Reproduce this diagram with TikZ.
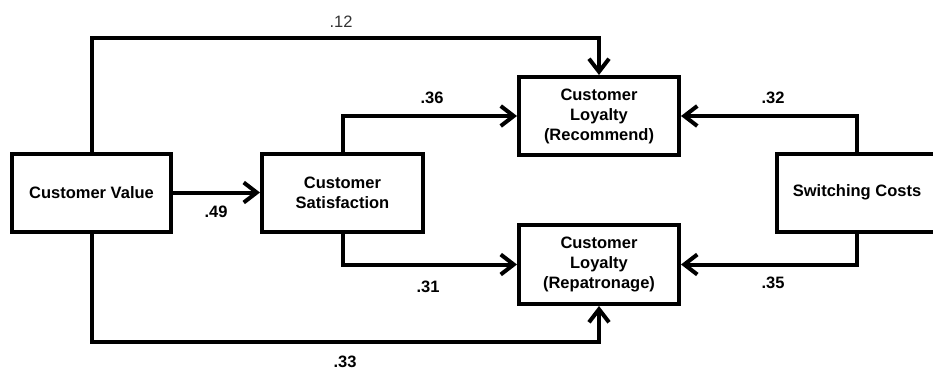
\documentclass[tikz,border=0pt]{standalone}
\usepackage{fontspec}
\setmainfont{Liberation Sans}
\usetikzlibrary{arrows.meta}
\begin{document}
\begin{tikzpicture}[x=1pt,y=-1pt,
  box/.style={draw,line width=4pt,align=center,inner sep=2pt,
    minimum width=160pt,minimum height=78pt,
    font=\fontsize{16.5}{20}\selectfont\bfseries},
  path/.style={line width=4pt,-{Straight Barb[length=13pt,width=20pt]}},
  coef/.style={font=\fontsize{16.5}{20}\selectfont\bfseries},
  coeflight/.style={font=\fontsize{16.5}{20}\selectfont,text=black!80}]
  \useasboundingbox (0,0) rectangle (933,370);
  \clip (0,0) rectangle (933,370);

  % constructs
  \node[box,minimum width=159pt] (cv)  at (91.5,192.5) {Customer Value};
  \node[box,minimum width=161pt] (sat) at (342.5,192.5) {Customer\\Satisfaction};
  \node[box] (rec) at (599,116) {Customer\\Loyalty\\(Recommend)};
  \node[box,minimum height=79pt] (rep) at (599,264.5) {Customer\\Loyalty\\(Repatronage)};
  \node[box] (sw)  at (857,192.5) {Switching Costs};

  % structural paths
  \draw[path] (cv.north) -- ++(0,-114) -| (rec.north);
  \draw[path] (sat.north) |- (rec.west);
  \draw[path] (sw.north) |- (rec.east);
  \draw[path] (cv.east) -- (sat.west);
  \draw[path] (sat.south) |- (rep.west);
  \draw[path] (sw.south) |- (rep.east);
  \draw[path] (cv.south) -- ++(0,108) -| (rep.south);

  % path coefficients
  \node[coeflight] (c12) at (341,22) {.12};
  \node[coef] (c36) at (432,98) {.36};
  \node[coef] (c32) at (773,98) {.32};
  \node[coef] (c49) at (216,212) {.49};
  \node[coef] (c31) at (428,287) {.31};
  \node[coef] (c35) at (773,283) {.35};
  \node[coef] (c33) at (345,362) {.33};
\end{tikzpicture}
\end{document}
